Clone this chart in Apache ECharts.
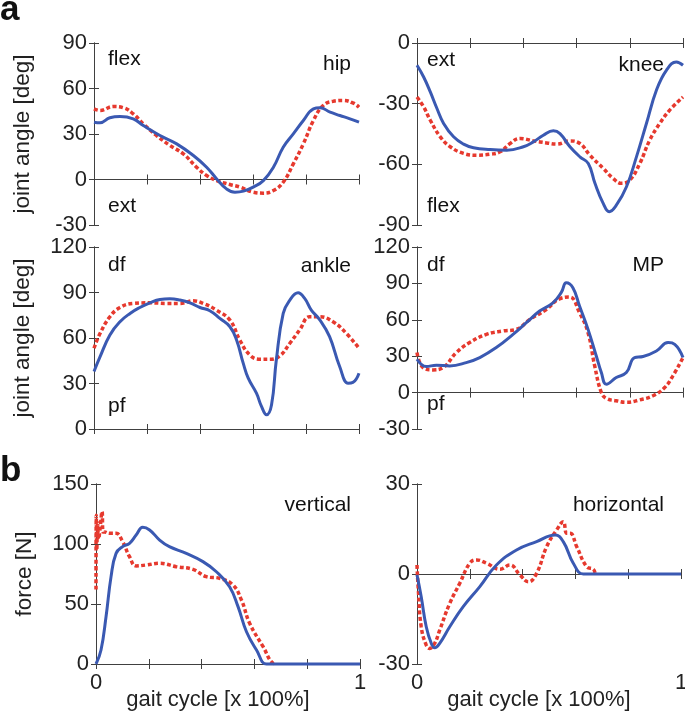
<!DOCTYPE html>
<html><head><meta charset="utf-8">
<script src="https://cdn.jsdelivr.net/npm/echarts@6/dist/echarts.min.js"></script>
<style>html,body{margin:0;padding:0;background:#fff}#c{width:685px;height:713px}</style>
</head><body><div id="c"></div>
<script>
// ---- data: [gait cycle fraction, value] ----
const hipBlue = [[0,37.8],[0.023,37.4],[0.06,40.7],[0.098,41.5],[0.148,40],[0.186,35.6],[0.249,29],[0.312,23.5],[0.375,15.8],[0.425,8.1],[0.463,0.4],[0.5,-6.2],[0.532,-8.4],[0.564,-7.7],[0.601,-5],[0.639,-0.7],[0.677,8.1],[0.714,21.3],[0.752,30.1],[0.79,38.9],[0.828,46.6],[0.853,47.3],[0.891,44.4],[0.928,42.2],[0.966,40],[1,37.8]];
const hipRed = [[0,46.6],[0.023,45.5],[0.073,48.1],[0.111,47.3],[0.148,43.3],[0.186,36.7],[0.236,29],[0.287,22.4],[0.337,16.9],[0.387,8.1],[0.425,2.6],[0.463,-0.7],[0.513,-3.3],[0.551,-5],[0.601,-8.4],[0.639,-9],[0.677,-7.3],[0.714,-1.8],[0.752,10.3],[0.79,23.5],[0.828,38.9],[0.865,48.8],[0.903,51.6],[0.941,52.1],[0.979,50.3],[1,47.7]];
const kneeBlue = [[0,-11],[0.025,-16.8],[0.05,-24.2],[0.075,-32.4],[0.1,-39.8],[0.1375,-46.4],[0.175,-50],[0.2125,-51.8],[0.275,-52.7],[0.3375,-53],[0.4,-51.3],[0.4375,-48.9],[0.475,-45.6],[0.5125,-43.4],[0.5375,-44.8],[0.575,-51.3],[0.6125,-56.3],[0.644,-59.6],[0.669,-69.4],[0.7,-79.3],[0.7225,-83.4],[0.75,-80.1],[0.7875,-71.1],[0.825,-56.3],[0.8625,-39.8],[0.9,-23.4],[0.9375,-13.5],[0.975,-9.4],[1,-11]];
const kneeRed = [[0,-26.7],[0.025,-31.6],[0.05,-38.2],[0.0875,-46.4],[0.125,-51.3],[0.175,-54.6],[0.225,-55.5],[0.275,-55],[0.3125,-53.8],[0.35,-49.7],[0.3875,-47.2],[0.4375,-48.4],[0.4875,-49.4],[0.525,-50],[0.575,-48.4],[0.6125,-49.7],[0.65,-55.5],[0.7,-62],[0.7375,-67],[0.769,-69.4],[0.8,-67.8],[0.8375,-59.6],[0.875,-48],[0.9125,-39.8],[0.95,-33.2],[1,-26.7]];
const ankleBlue = [[0,37.9],[0.023,47.7],[0.06,62],[0.098,70.7],[0.136,76.2],[0.173,80.1],[0.211,83.2],[0.249,85.4],[0.286,85.8],[0.324,85],[0.362,83.2],[0.4,80.1],[0.437,78],[0.475,72.9],[0.513,67.4],[0.538,58.7],[0.563,43.4],[0.582,33.5],[0.613,23.6],[0.632,14.9],[0.651,9.4],[0.67,16],[0.688,45.5],[0.714,76.2],[0.739,85],[0.77,89.8],[0.795,86.1],[0.82,78.4],[0.852,72],[0.889,60.9],[0.927,41.2],[0.959,30.2],[0.977,30.7],[1,36.8]];
const ankleRed = [[0,53.2],[0.023,63.1],[0.06,74],[0.098,80.1],[0.148,82.8],[0.211,83.2],[0.274,82.8],[0.324,82.8],[0.374,84.5],[0.412,82.8],[0.462,78.4],[0.513,71.8],[0.55,58.7],[0.588,48.8],[0.626,46],[0.663,46],[0.701,48.2],[0.739,56.5],[0.776,65.3],[0.814,74],[0.852,74],[0.902,70.7],[0.952,63.1],[1,53.2]];
const mpBlue = [[0,27.5],[0.035,21.5],[0.073,22.6],[0.123,22],[0.185,24.7],[0.236,28.9],[0.298,37.1],[0.361,48],[0.411,57.6],[0.461,67.2],[0.511,74],[0.543,82.8],[0.561,90.5],[0.586,86.4],[0.611,71.3],[0.643,52.1],[0.674,30.2],[0.693,16.5],[0.712,6.9],[0.749,12.4],[0.787,16.5],[0.818,28.9],[0.85,29.7],[0.9,34.3],[0.944,41.2],[0.969,39.8],[1,28.9]];
const mpRed = [[0,33],[0.023,20.6],[0.06,18.7],[0.098,20.6],[0.148,33],[0.198,41.2],[0.261,48],[0.323,50.8],[0.373,52.1],[0.424,60.3],[0.486,68.5],[0.536,77.3],[0.574,78.7],[0.611,65.8],[0.643,49.4],[0.668,22],[0.693,0.1],[0.712,-4.8],[0.749,-6.7],[0.787,-8],[0.837,-6],[0.887,-2.6],[0.931,4.2],[0.962,13.8],[1,28.9]];
const vertBlue = [[0,0],[0.019,11.7],[0.038,39.4],[0.057,72.8],[0.076,92.2],[0.101,97.8],[0.127,100.6],[0.152,107.5],[0.177,113.9],[0.203,111.7],[0.241,103.3],[0.278,97.8],[0.342,92.2],[0.405,85.3],[0.456,76.9],[0.506,64.4],[0.538,47.8],[0.57,26.9],[0.608,11.7],[0.646,0],[0.7,0],[1,0]];
const vertRed = [[0,62],[0.001,124],[0.003,95],[0.006,118],[0.01,104],[0.015,112],[0.023,127],[0.027,110],[0.032,110],[0.051,108.9],[0.076,108.9],[0.101,101.9],[0.127,89.4],[0.152,81.7],[0.19,82.5],[0.241,83.9],[0.304,81.1],[0.367,78.9],[0.418,72.8],[0.468,71.4],[0.519,65.8],[0.551,53.3],[0.582,33.9],[0.633,14.4],[0.671,0.6],[0.684,0]];
const horizBlue = [[0,-0.3],[0.016,-7.6],[0.035,-17.6],[0.054,-23.1],[0.067,-24.6],[0.086,-23.1],[0.124,-17.6],[0.175,-10.9],[0.238,-4.2],[0.301,3],[0.377,8],[0.453,10.8],[0.523,13],[0.554,10.8],[0.592,3.6],[0.63,0],[0.7,0],[1,0]];
const horizRed = [[0,3],[0.005,-5.3],[0.016,-17.6],[0.035,-23.7],[0.048,-24.8],[0.067,-23.1],[0.086,-18.7],[0.124,-9.8],[0.162,-3.1],[0.2,3.6],[0.225,4.7],[0.263,3.6],[0.314,1.6],[0.352,3],[0.39,-0.3],[0.422,-2.6],[0.453,0.2],[0.491,9.1],[0.529,14.7],[0.554,17.4],[0.567,13.6],[0.58,13.6],[0.605,9.1],[0.643,2.4],[0.668,1.6],[0.675,0]];

const xTickLabels = ['0', '1'];
const yAxisNames = ['joint angle [deg]', 'force [N]'];
const xAxisName = 'gait cycle [x 100%]';

const FONT = '"Liberation Sans", Arial, sans-serif';
const BLUE = '#3a59b2';
const RED = '#e6392e';
const FRAME = '#404040';

const panels = [
  {grid:{left:94,top:43,width:265,height:182}, y:[-30,90,30], yName:yAxisNames[0], blue:hipBlue, red:hipRed, xl:false},
  {grid:{left:417,top:43,width:266,height:182}, y:[-90,0,30], yName:'', blue:kneeBlue, red:kneeRed, xl:false},
  {grid:{left:94,top:247,width:265,height:182}, y:[0,120,30], yName:yAxisNames[0], blue:ankleBlue, red:ankleRed, xl:false},
  {grid:{left:417,top:247,width:266,height:182}, y:[-30,120,30], yName:'', blue:mpBlue, red:mpRed, xl:false},
  {grid:{left:96,top:484,width:264,height:180}, y:[0,150,50], yName:yAxisNames[1], blue:vertBlue, red:vertRed, xl:true, noclip:true},
  {grid:{left:417,top:484,width:264,height:180}, y:[-30,30,30], yName:'', blue:horizBlue, red:horizRed, xl:true, noclip:true}
];

const grid = [], xAxis = [], yAxis = [], series = [];
const lineAx = {show:true, lineStyle:{color:FRAME, width:1}};
const tickIn = {show:true, inside:true, length:5, lineStyle:{color:FRAME, width:1}};
panels.forEach((p, i) => {
  grid.push(Object.assign({outerBoundsMode:'none', containLabel:false}, p.grid));
  xAxis.push({gridIndex:i, type:'value', position:'bottom', min:0, max:1, interval:0.2,
    axisLine:lineAx, axisTick:tickIn, splitLine:{show:false},
    axisLabel:{show:p.xl, margin:8, color:'#222', fontFamily:FONT, fontSize:22,
      formatter:v => (Math.abs(v) < 1e-9 ? xTickLabels[0] : (Math.abs(v-1) < 1e-9 ? xTickLabels[1] : ''))},
    name:p.xl ? xAxisName : '', nameLocation:'middle', nameGap:25, nameMoveOverlap:false,
    nameTextStyle:{color:'#222', fontFamily:FONT, fontSize:22, padding:[0,20,0,0]}});
  xAxis.push({gridIndex:i, type:'value', position:'top', min:0, max:1, interval:0.2,
    axisLine:lineAx, axisTick:tickIn, splitLine:{show:false}, axisLabel:{show:false}});
  yAxis.push({gridIndex:i, type:'value', position:'left', min:p.y[0], max:p.y[1], interval:p.y[2],
    axisLine:lineAx, axisTick:tickIn, splitLine:{show:false},
    axisLabel:{margin:7, color:'#222', fontFamily:FONT, fontSize:22},
    name:p.yName, nameLocation:'middle', nameGap:60, nameMoveOverlap:false,
    nameTextStyle:{color:'#222', fontFamily:FONT, fontSize:22.5}});
  yAxis.push({gridIndex:i, type:'value', position:'right', min:p.y[0], max:p.y[1], interval:p.y[2],
    axisLine:lineAx, axisTick:tickIn, splitLine:{show:false}, axisLabel:{show:false}});
  series.push({type:'line', xAxisIndex:2*i, yAxisIndex:2*i, data:p.red, symbol:'none', smooth:0.45,
    clip:!p.noclip, lineStyle:{color:RED, width:3.5, type:[4,2.5]}, silent:true, animation:false});
  series.push({type:'line', xAxisIndex:2*i, yAxisIndex:2*i, data:p.blue, symbol:'none', smooth:0.45,
    clip:!p.noclip, lineStyle:{color:BLUE, width:3}, silent:true, animation:false});
});

function t(text, x, y, align, size, bold) {
  return {type:'text', x:x, y:y, silent:true,
    style:{text:text, fill:'#111', font:(bold?'bold ':'') + size + 'px ' + FONT, align:align, verticalAlign:'middle'}};
}
const graphic = [
  t('a', 0, 10, 'left', 35, true), t('b', 0, 471, 'left', 35, true),
  t('flex', 108, 59, 'left', 21), t('hip', 351, 64, 'right', 21), t('ext', 108, 206, 'left', 21),
  t('ext', 427, 60, 'left', 21), t('knee', 664, 65, 'right', 21), t('flex', 427, 206, 'left', 21),
  t('df', 108, 265, 'left', 21), t('ankle', 351, 266, 'right', 21), t('pf', 108, 406, 'left', 21),
  t('df', 427, 265, 'left', 21), t('MP', 664, 265, 'right', 21), t('pf', 427, 404, 'left', 21),
  t('vertical', 351, 505, 'right', 21), t('horizontal', 664, 505, 'right', 21)
];

const chart = echarts.init(document.getElementById('c'), null, {renderer:'canvas'});
chart.setOption({animation:false, backgroundColor:'#fff', grid, xAxis, yAxis, series, graphic});
</script></body></html>
